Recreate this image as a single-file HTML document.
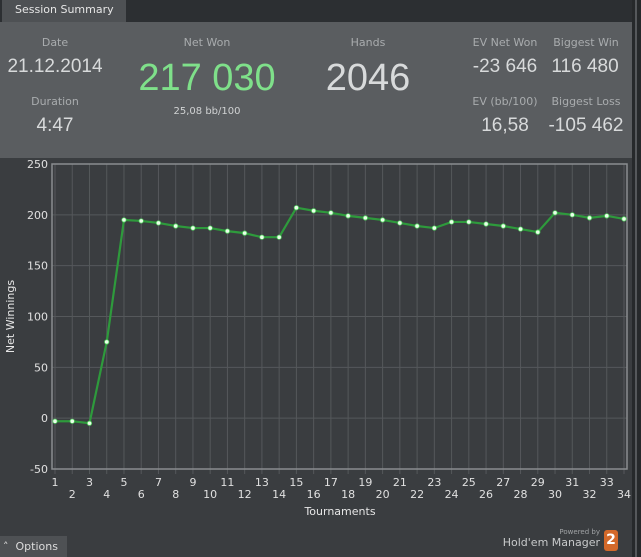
<!DOCTYPE html>
<html><head><meta charset="utf-8">
<style>
body{margin:0;width:641px;height:557px;background:#3a3d40;overflow:hidden;font-family:"DejaVu Sans","Liberation Sans",sans-serif;position:relative}
.abs{position:absolute}
.lbl{color:#a9acae;font-size:11px;text-align:center}
.val{color:#d8dadb;font-size:19px;text-align:center;font-family:"Liberation Sans",sans-serif}
</style></head><body>
<div class="abs" style="left:0;top:0;width:641px;height:22px;background:#2c2f32"></div>
<div class="abs" style="left:2px;top:0;width:111px;height:22px;background:#4e5154;color:#e6e6e6;font-size:11px;line-height:20px;padding-left:13px">Session Summary</div>
<div class="abs" style="left:0;top:22px;width:632px;height:136px;background:#5a5d60"></div>
<div class="abs" style="left:632px;top:0;width:9px;height:557px;background:#26292b"><div style="position:absolute;left:3px;top:0;width:2px;height:557px;background:#55585b"></div></div>

<div class="abs lbl" style="left:15px;top:36px;width:80px">Date</div>
<div class="abs val" style="left:0;top:56px;width:110px">21.12.2014</div>
<div class="abs lbl" style="left:15px;top:95px;width:80px">Duration</div>
<div class="abs val" style="left:15px;top:115px;width:80px">4:47</div>

<div class="abs lbl" style="left:157px;top:36px;width:100px">Net Won</div>
<div class="abs" style="left:117px;top:57px;width:180px;text-align:center;color:#7fe08a;font-size:38px;font-family:'Liberation Sans',sans-serif">217 030</div>
<div class="abs lbl" style="left:157px;top:106px;width:100px;color:#d0d2d3;font-size:10px">25,08 bb/100</div>

<div class="abs lbl" style="left:318px;top:36px;width:100px">Hands</div>
<div class="abs" style="left:298px;top:57px;width:140px;text-align:center;color:#d8dadb;font-size:38px;font-family:'Liberation Sans',sans-serif">2046</div>

<div class="abs lbl" style="left:465px;top:36px;width:80px">EV Net Won</div>
<div class="abs val" style="left:460px;top:56px;width:90px">-23 646</div>
<div class="abs lbl" style="left:545px;top:36px;width:82px">Biggest Win</div>
<div class="abs val" style="left:540px;top:56px;width:90px">116 480</div>
<div class="abs lbl" style="left:465px;top:95px;width:80px">EV (bb/100)</div>
<div class="abs val" style="left:460px;top:115px;width:90px">16,58</div>
<div class="abs lbl" style="left:545px;top:95px;width:82px">Biggest Loss</div>
<div class="abs val" style="left:540px;top:115px;width:92px">-105 462</div>

<svg class="abs" style="left:0;top:0" width="632" height="557" id="chart"></svg>

<div class="abs" style="left:0;top:536px;width:64px;height:21px;background:#4e5154;color:#dcdcdc;font-size:11px;line-height:21px;padding-left:3px">˄&nbsp; Options</div>
<div class="abs" style="left:540px;top:528px;width:60px;text-align:right;color:#a0a3a5;font-size:7px">Powered by</div>
<div class="abs" style="left:490px;top:536px;width:110px;text-align:right;color:#c8cacb;font-size:11px">Hold'em Manager</div>
<div class="abs" style="left:604px;top:530px;width:14px;height:21px;background:#d4692a;border-radius:3px;color:#fff;font-weight:bold;font-size:14px;text-align:center;line-height:21px">2</div>

<script>
const categories=[1,2,3,4,5,6,7,8,9,10,11,12,13,14,15,16,17,18,19,20,21,22,23,24,25,26,27,28,29,30,31,32,33,34];
const netWinnings=[-3,-3,-5,75,195,194,192,189,187,187,184,182,178,178,207,204,202,199,197,195,192,189,187,193,193,191,189,186,183,202,200,197,199,196];
const yTicks=[-50,0,50,100,150,200,250];
const NS="http://www.w3.org/2000/svg";
const svg=document.getElementById('chart');
const L=52,R=627,T=164,B=469,yMin=-50,yMax=250;
const x0=55,x1=624;
function xs(i){return x0+(x1-x0)*i/(categories.length-1);}
function ys(v){return B-(v-yMin)/(yMax-yMin)*(B-T);}
function mk(t,a){const e=document.createElementNS(NS,t);for(const k in a)e.setAttribute(k,a[k]);svg.appendChild(e);return e;}
yTicks.forEach(v=>{
  const g=mk('line',{x1:L,x2:R,y1:ys(v),y2:ys(v),stroke:'#55585b','stroke-width':1});
  
  
  const t=mk('text',{x:L-4,y:ys(v)+4,'text-anchor':'end',fill:'#e0e0e0','font-size':11,'font-family':'DejaVu Sans, sans-serif'});
  t.textContent=v;
  
  
});
categories.forEach((c,i)=>{
  const g=mk('line',{x1:xs(i),x2:xs(i),y1:T,y2:B+5,stroke:'#55585b','stroke-width':1});
  
  
  const t=mk('text',{x:xs(i),y:i%2===0?B+17:B+29,'text-anchor':'middle',fill:'#e0e0e0','font-size':11,'font-family':'DejaVu Sans, sans-serif'});
  t.textContent=c;
  
  
});
const fr=mk('rect',{x:L,y:T,width:R-L,height:B-T,fill:'none',stroke:'#8a8d90','stroke-width':1.5});


const pl=mk('polyline',{points:netWinnings.map((v,i)=>xs(i)+','+ys(v)).join(' '),fill:'none',stroke:'#2e9a3c','stroke-width':2.2});


netWinnings.forEach((v,i)=>{
  const p=mk('circle',{cx:xs(i),cy:ys(v),r:2.2,fill:'#eaffea',stroke:'#4fcf5c','stroke-width':0.8});
  
  
});
const yt=mk('text',{x:14,y:(T+B)/2,'text-anchor':'middle',fill:'#e6e6e6','font-size':11,'font-family':'DejaVu Sans, sans-serif',transform:'rotate(-90 14 '+(T+B)/2+')'});
yt.textContent='Net Winnings';


const xt=mk('text',{x:340,y:515,'text-anchor':'middle',fill:'#e6e6e6','font-size':11,'font-family':'DejaVu Sans, sans-serif'});
xt.textContent='Tournaments';


</script>
</body></html>
